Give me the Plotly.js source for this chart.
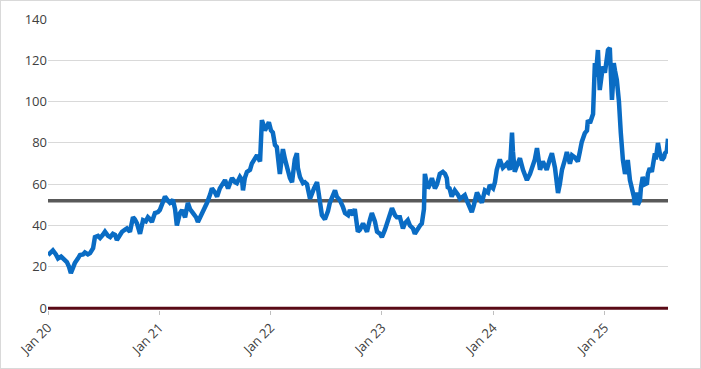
<!DOCTYPE html>
<html>
<head>
<meta charset="utf-8">
<script src="https://cdn.plot.ly/plotly-3.0.1.min.js"></script>
<style>
html,body{margin:0;padding:0;background:#fff;}
#chart{width:699px;height:367px;border:1px solid #d9d9d9;}
</style>
</head>
<body>
<div id="chart"></div>
<script>
const dates = [
"2020-01-01","2020-01-07","2020-01-17","2020-01-27","2020-02-03","2020-02-13","2020-02-19","2020-02-26","2020-03-03","2020-03-10",
"2020-03-16","2020-03-23","2020-03-29","2020-04-08","2020-04-15","2020-04-25","2020-05-01","2020-05-11","2020-05-18","2020-05-28",
"2020-06-03","2020-06-13","2020-06-20","2020-06-29","2020-07-06","2020-07-16","2020-07-23","2020-08-01","2020-08-08","2020-08-14",
"2020-08-24","2020-08-31","2020-09-10","2020-09-16","2020-09-26","2020-10-06","2020-10-12","2020-10-19","2020-10-29","2020-11-08",
"2020-11-17","2020-11-24","2020-12-01","2020-12-07","2020-12-17","2020-12-27",
"2021-01-02","2021-01-12","2021-01-19","2021-01-29","2021-02-04","2021-02-14","2021-02-21","2021-02-27","2021-03-09","2021-03-16",
"2021-03-26","2021-04-04","2021-04-11","2021-04-21","2021-05-01","2021-05-07","2021-05-14","2021-05-20","2021-05-30","2021-06-06",
"2021-06-16","2021-06-22","2021-07-02","2021-07-09","2021-07-18","2021-07-25","2021-08-04","2021-08-14","2021-08-20","2021-08-27",
"2021-09-06","2021-09-12","2021-09-22","2021-09-29","2021-10-02","2021-10-08","2021-10-15","2021-10-25","2021-10-31","2021-11-10",
"2021-11-17","2021-11-27","2021-12-03","2021-12-10","2021-12-13","2021-12-20","2021-12-26",
"2022-01-02","2022-01-08","2022-01-15","2022-01-21","2022-01-31","2022-02-10","2022-02-17","2022-02-23","2022-03-05","2022-03-12",
"2022-03-21","2022-03-28","2022-03-31","2022-04-07","2022-04-13","2022-04-17","2022-04-23","2022-04-30","2022-05-10","2022-05-16",
"2022-05-23","2022-06-02","2022-06-12","2022-06-18","2022-06-28","2022-07-08","2022-07-14","2022-07-24","2022-07-31","2022-08-06",
"2022-08-16","2022-08-26","2022-09-02","2022-09-12","2022-09-18","2022-09-28","2022-10-04","2022-10-14","2022-10-21","2022-10-31",
"2022-11-06","2022-11-13","2022-11-23","2022-11-29","2022-12-09","2022-12-16","2022-12-26",
"2023-01-01","2023-01-11","2023-01-17","2023-01-27","2023-02-03","2023-02-13","2023-02-19","2023-03-01","2023-03-11","2023-03-17",
"2023-03-27","2023-04-03","2023-04-13","2023-04-19","2023-04-29","2023-05-06","2023-05-12","2023-05-19","2023-05-22","2023-06-01",
"2023-06-08","2023-06-14","2023-06-24","2023-07-01","2023-07-10","2023-07-20","2023-07-27","2023-08-02","2023-08-05","2023-08-11",
"2023-08-18","2023-08-28","2023-09-07","2023-09-14","2023-09-24","2023-09-30","2023-10-07","2023-10-10","2023-10-17","2023-10-23",
"2023-10-30","2023-11-09","2023-11-19","2023-11-25","2023-12-05","2023-12-15","2023-12-21",
"2024-01-01","2024-01-07","2024-01-13","2024-01-23","2024-02-02","2024-02-09","2024-02-15","2024-02-25","2024-03-03","2024-03-06",
"2024-03-12","2024-03-22","2024-03-29","2024-04-08","2024-04-14","2024-04-21","2024-05-01","2024-05-07","2024-05-17","2024-05-24",
"2024-06-03","2024-06-12","2024-06-19","2024-06-25","2024-07-05","2024-07-12","2024-07-22","2024-07-28","2024-08-01","2024-08-07",
"2024-08-14","2024-08-24","2024-08-30","2024-09-09","2024-09-16","2024-09-25","2024-10-05","2024-10-12","2024-10-18","2024-10-28",
"2024-11-04","2024-11-07","2024-11-14","2024-11-24","2024-11-27","2024-11-30","2024-12-03","2024-12-10","2024-12-16","2024-12-20",
"2024-12-26",
"2025-01-02","2025-01-08","2025-01-12","2025-01-18","2025-01-25","2025-01-28","2025-01-31","2025-02-04","2025-02-10","2025-02-17",
"2025-02-20","2025-02-23","2025-03-02","2025-03-09","2025-03-15","2025-03-18","2025-03-25","2025-03-31","2025-04-07","2025-04-10",
"2025-04-14","2025-04-17","2025-04-20","2025-04-27","2025-04-30","2025-05-06","2025-05-13","2025-05-20","2025-05-23","2025-05-29",
"2025-06-05","2025-06-08","2025-06-15","2025-06-18","2025-06-25","2025-07-01","2025-07-08","2025-07-15","2025-07-18","2025-07-24",
"2025-07-28"
];
const values = [
25.7,26.5,28,26,24,25,24,23.5,22.3,20,
17,19.5,21.8,24,25.7,26,27,26,26.6,29,
34.4,35,34,35.5,37,35,34.4,36,35.5,33,
35,37,38,38.6,37,44,43,41,36,42.6,
42,44,43,41.7,46,46.5,
47.5,51,54,52,51,52.5,48,40,46,47.5,
44,51,48,46,44,41.7,44,46,48,51,
55,58,56,54,58,59.6,62,58,61,63,
61,60.5,63.5,62,57,63,66,67,70,72,
74,71,91,88,86,88,90,
86,85,79,78,65,77,72,68,63,61,
72,75,68,63.5,62,60.5,61,60,53,55.7,
58,61,48,45,43,47,51,54,57,54,
52.3,49,46,45,47.5,45,48,37,38,41,
39,37,43,46,42,37,36,
34.4,38,41,46,48.4,45,44,44,38.6,41,
42.6,40,38.6,36,39,40,41,48,65,58,
60,63,58,60,65,66,65,63,58.6,58,
54,57,55,53,54,54.7,52,51,49,46.5,
50,56,53,51,57,56,59.6,
58,61,67,72,68,69,70,67,85,76,
66,70,72.6,67,65,62,65,68,72,77.5,
67,71,69,67,72,75,68,62,55.7,60,
67,72,75.6,70,74,73,71,76,80.5,84.7,
86,91,89.6,94,110,118.6,112,125,105.6,112,
117,
114,120,125,126,100.8,108,118.6,115,110.5,100,
89.6,85,71.7,65,68,71.7,62,58.6,54,50,
55,56,50,52.3,58,63.5,60,60.5,65,67.8,
66,70,75,72,80,75,71.7,73,75,76,
82
];
const refDates = ["2020-01-01","2025-07-28"];
const avgLevel = [52,52];
const zeroLevel = [0,0];
const tickDates = ["2020-01-01","2021-01-01","2022-01-01","2023-01-01","2024-01-01","2025-01-01"];
const tickLabels = ["Jan 20","Jan 21","Jan 22","Jan 23","Jan 24","Jan 25"];
const yTicks = [0,20,40,60,80,100,120,140];

const traces = [
  {x: refDates, y: zeroLevel, type:'scatter', mode:'lines', line:{color:'#5a0a16', width:3}, hoverinfo:'skip'},
  {x: refDates, y: avgLevel, type:'scatter', mode:'lines', line:{color:'#595959', width:3.5}, hoverinfo:'skip'},
  {x: dates, y: values, type:'scatter', mode:'lines', line:{color:'#0a6cc4', width:4.5, shape:'linear'}}
];
const layout = {
  width: 699, height: 367,
  margin: {l: 47, r: 32, t: 18, b: 58},
  paper_bgcolor:'#ffffff', plot_bgcolor:'#ffffff',
  showlegend:false,
  font:{family:'"Open Sans", Calibri, sans-serif', size:12, color:'#595959'},
  xaxis:{
    type:'date', range:['2020-01-01','2025-07-28'],
    tickmode:'array', tickvals: tickDates, ticktext: tickLabels,
    tickangle:-45, ticks:'outside', ticklen:4, tickcolor:'#bfbfbf',
    showgrid:false, zeroline:false, showline:false,
    tickfont:{size:13, color:'#404040'}
  },
  yaxis:{
    range:[-0.9,140], tickmode:'array', tickvals:yTicks,
    showgrid:true, gridcolor:'#d9d9d9', gridwidth:1,
    zeroline:false, showline:false, ticks:'',
    tickfont:{size:13, color:'#404040'}
  }
};
Plotly.newPlot('chart', traces, layout, {displayModeBar:false, staticPlot:true});
</script>
</body>
</html>
